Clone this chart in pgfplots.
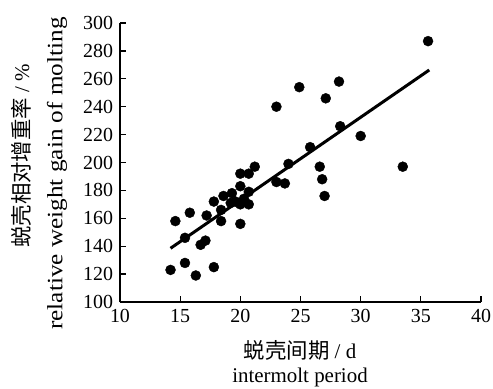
\documentclass[border=0pt]{standalone}
\usepackage{pgfplots}
\pgfplotsset{compat=1.18}
\usepackage{fontspec}
\setmainfont{Liberation Serif}
\newfontfamily\cjk{Noto Sans CJK SC}
\begin{document}
\begin{tikzpicture}
\begin{axis}[
  name=ax,
  scale only axis,
  width=361bp, height=279bp,
  xmin=10, xmax=40, ymin=100, ymax=300,
  xtick={10,15,...,40}, ytick={100,120,...,300},
  axis x line*=bottom, axis y line*=left,
  axis line style={line width=1.5bp,-},
  tick style={line width=1.3bp,black},
  major tick length=6bp,
  tick align=inside,
  /pgf/number format/assume math mode=true,
  ticklabel style={font=\fontsize{20}{22}\selectfont},
  xticklabel style={yshift=-4bp},
  yticklabel style={xshift=-3.5bp},
]
\addplot[only marks, mark=*, mark size=5bp, black] coordinates {
(14.2,123) (15.4,128) (16.3,119) (17.8,125) (14.6,158) (15.8,164)
(15.4,146) (16.7,141) (17.1,144) (17.2,162) (18.4,158) (17.8,172)
(18.4,166) (18.6,176) (19.3,178) (19.2,171) (19.6,172) (20.0,183)
(20.0,192) (20.7,192) (21.2,197) (20.0,156) (20.7,179) (20.3,174)
(20.0,170) (20.7,170) (23.0,240) (24.9,254) (28.2,258) (27.1,246)
(28.3,226) (30.0,219) (25.8,211) (24.0,199) (26.6,197) (33.5,197)
(26.8,188) (27.0,176) (23.0,186) (23.7,185) (35.6,287)
};
\addplot[black, line width=3bp] coordinates {(14.2,138.5) (35.7,266.3)};
\end{axis}
\node[rotate=90] at ([xshift=-99bp,yshift=146bp]ax.south west) {{\cjk\fontsize{21.5}{23}\selectfont 蜕壳相对增重率}{\fontsize{21}{23}\selectfont\ / \%}};
\node[rotate=90] at ([xshift=-63bp,yshift=128.5bp]ax.south west) {\scalebox{1.15}[1]{\fontsize{22}{24}\selectfont relative weight gain of molting}};
\node at ([xshift=180bp,yshift=-48bp]ax.south west) {{\cjk\fontsize{21.5}{23}\selectfont 蜕壳间期}{\fontsize{21}{23}\selectfont\ / d}};
\node at ([xshift=180bp,yshift=-75bp]ax.south west) {\fontsize{21}{23}\selectfont intermolt period};
\pgfresetboundingbox
\path ([xshift=-120bp,yshift=-87bp]ax.south west) rectangle ([xshift=12bp,yshift=23bp]ax.north east);
\end{tikzpicture}
\end{document}
